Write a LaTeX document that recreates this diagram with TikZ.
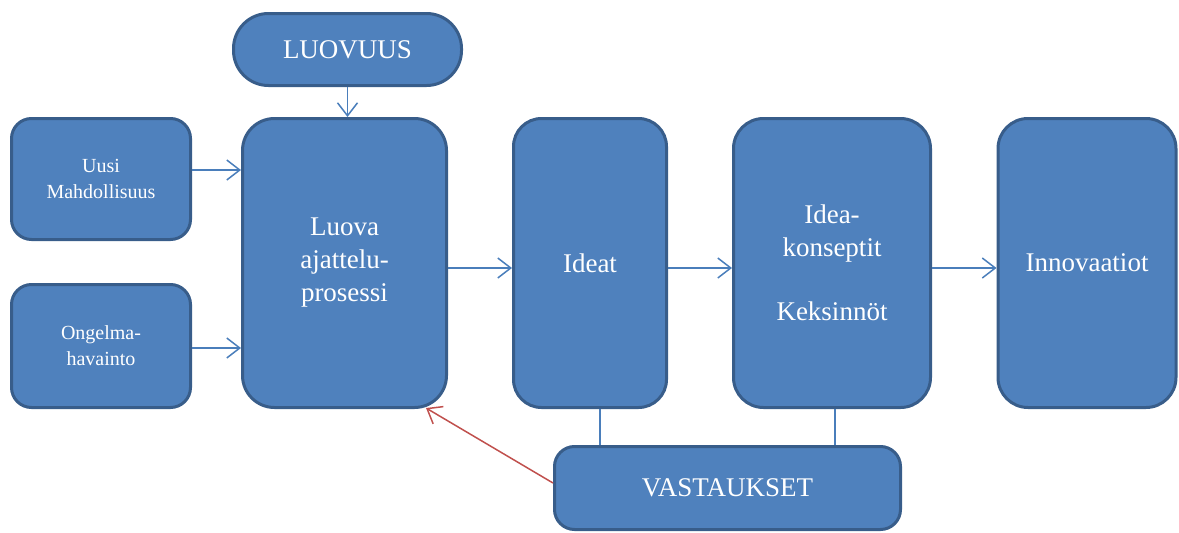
\documentclass[tikz,border=0pt]{standalone}
\usepackage{fontspec}
\setmainfont{Liberation Serif}
\usetikzlibrary{arrows.meta,calc}
\definecolor{boxfill}{HTML}{4F81BD}
\definecolor{boxline}{HTML}{385D8A}
\definecolor{linkblue}{HTML}{4A7EBB}
\definecolor{backred}{HTML}{C0504D}
\begin{document}
\begin{tikzpicture}[x=1pt,y=-1pt,
  box/.style={draw=boxline, fill=boxfill, line width=3pt, text=white,
    align=center, inner sep=0pt},
  bigtext/.style={font=\fontsize{27}{33}\selectfont},
  smalltext/.style={font=\fontsize{20}{26}\selectfont},
  link/.style={draw=linkblue, line width=1.5pt,
    -{Straight Barb[length=13pt,width=20pt,line width=1.5pt]}},
  plainlink/.style={draw=linkblue, line width=1.5pt},
  backlink/.style={draw=backred, line width=1.5pt,
    -{Straight Barb[length=13pt,width=20pt,line width=1.5pt]}}]
\useasboundingbox (0,0) rectangle (1179,533);

% creativity source on top
\node[box, bigtext, rounded corners=35pt, minimum width=228pt, minimum height=72pt]
  (luovuus) at (347.5,49.5) {LUOVUUS};

% inputs on the left
\node[box, smalltext, rounded corners=20pt, minimum width=179pt, minimum height=121pt]
  (uusi) at (101,179) {Uusi\\Mahdollisuus};
\node[box, smalltext, rounded corners=20pt, minimum width=179pt, minimum height=123pt]
  (ongelma) at (101,346) {Ongelma-\\havainto};

% main process chain
\node[box, bigtext, rounded corners=32pt, minimum width=204pt, minimum height=289pt]
  (luova) at (344.5,263) {Luova\\ajattelu-\\prosessi};
\node[box, bigtext, rounded corners=28pt, minimum width=153pt, minimum height=289pt]
  (ideat) at (590,263) {Ideat};
\node[box, bigtext, rounded corners=30pt, minimum width=197pt, minimum height=289pt]
  (idea) at (832,263) {Idea-\\konseptit\\[31pt]Keksinnöt};
\node[box, bigtext, rounded corners=30pt, minimum width=178pt, minimum height=289pt]
  (innov) at (1087,263) {Innovaatiot};

% feedback box
\node[box, bigtext, rounded corners=20pt, minimum width=346pt, minimum height=83pt]
  (vast) at (727.5,488) {VASTAUKSET};

% connectors
\draw[link] (luovuus.south) -- (luovuus.south |- luova.north);
\draw[link] ([yshift=9pt]uusi.east) -- ([yshift=9pt]uusi.east -| luova.west);
\draw[link] ([yshift=-2pt]ongelma.east) -- ([yshift=-2pt]ongelma.east -| luova.west);
\draw[link] ([yshift=-5pt]luova.east) -- ([yshift=-5pt]luova.east -| ideat.west);
\draw[link] ([yshift=-5pt]ideat.east) -- ([yshift=-5pt]ideat.east -| idea.west);
\draw[link] ([yshift=-5pt]idea.east) -- ([yshift=-5pt]idea.east -| innov.west);
\draw[plainlink] ([xshift=10pt]ideat.south) -- ([xshift=10pt]ideat.south |- vast.north);
\draw[plainlink] ([xshift=3pt]idea.south) -- ([xshift=3pt]idea.south |- vast.north);
\draw[backlink] ([yshift=5pt]vast.west) -- ([xshift=-22pt,yshift=1pt]luova.south east);
\end{tikzpicture}
\end{document}
